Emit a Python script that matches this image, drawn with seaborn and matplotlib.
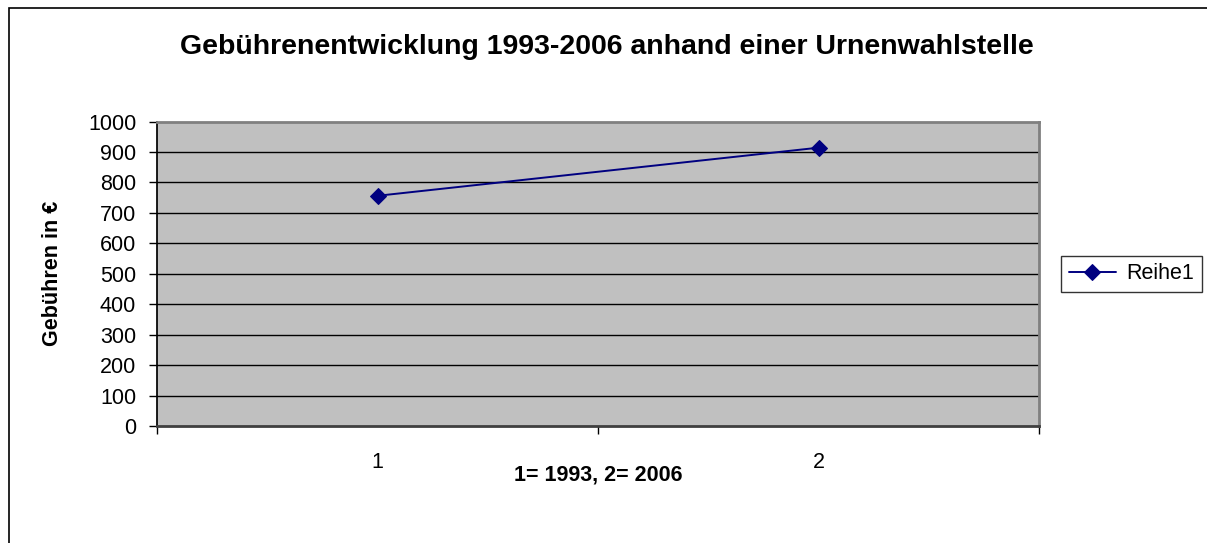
import numpy as np
import pandas as pd
import matplotlib
matplotlib.use("Agg")
import matplotlib.pyplot as plt
import seaborn as sns
from matplotlib.patches import Rectangle

# data
x_vals = [1, 2]
fees = [756, 914]
series = ["Reihe1", "Reihe1"]
y_ticks = list(range(0, 1001, 100))

sns.set_theme(style="white")
plt.rcParams['font.family'] = ['Liberation Sans', 'DejaVu Sans']
plt.rcParams['text.color'] = 'black'
plt.rcParams['xtick.color'] = 'black'
plt.rcParams['ytick.color'] = 'black'
plt.rcParams['axes.labelcolor'] = 'black'

df = pd.DataFrame({"x": x_vals, "Gebühren": fees, "Reihe": series})

fig = plt.figure(figsize=(12.07, 5.43), dpi=100)
ax = fig.add_axes([157 / 1207, 1 - 426 / 543, 882 / 1207, 304.5 / 543])
ax.set_facecolor("#C0C0C0")

# outer frame of the chart area
fig.patches.append(Rectangle((9 / 1207, -0.1), 1.2, 1 - 8 / 543 + 0.1, transform=fig.transFigure,
                             fill=False, edgecolor="black", linewidth=1.2, zorder=0))

sns.lineplot(data=df, x="x", y="Gebühren", hue="Reihe", palette=["#000080"], marker="D",
             markersize=8.5, markeredgecolor="#000080", linewidth=1.4, ax=ax, zorder=5)

ax.set_xlim(0.5, 2.5)
ax.set_ylim(0, 1000)
ax.set_yticks(y_ticks)
ax.set_yticklabels([str(v) for v in y_ticks], fontsize=15.5)
ax.set_xticks([0.5, 1.5, 2.5])
ax.set_xticklabels([])
for xv in x_vals:
    ax.text(xv, -0.085, str(xv), transform=ax.get_xaxis_transform(), ha="center", va="top", fontsize=15.5)
ax.tick_params(axis="both", direction="out", length=6, width=1, color="black", left=True, bottom=True)
ax.tick_params(axis="y", pad=9)

for v in y_ticks[1:-1]:
    ax.axhline(v, color="black", linewidth=1, zorder=1)

ax.spines["left"].set_color("black")
ax.spines["bottom"].set_color("#404040")
ax.spines["bottom"].set_linewidth(2)
ax.spines["top"].set_color("#808080")
ax.spines["right"].set_color("#808080")
ax.spines["top"].set_linewidth(2)
ax.spines["right"].set_linewidth(2)

ax.set_xlabel("")
ax.set_ylabel("")
fig.text(53 / 1207, 1 - 273 / 543, "Gebühren in €", ha="center", va="center", rotation=90,
         fontsize=15.5, fontweight="bold")
fig.text(598 / 1207, 1 - 475 / 543, "1= 1993, 2= 2006", ha="center", va="center",
         fontsize=15.5, fontweight="bold")
fig.text(607 / 1207, 1 - 47 / 543, "Gebührenentwicklung 1993-2006 anhand einer Urnenwahlstelle",
         ha="center", va="center", fontsize=20.5, fontweight="bold")

leg = ax.legend(loc="center left", bbox_to_anchor=(1.025, 0.5), frameon=True, fontsize=15.5,
                handlelength=2.2, borderaxespad=0, fancybox=False, borderpad=0.35,
                handletextpad=0.5)
leg.get_frame().set_edgecolor("black")
leg.get_frame().set_linewidth(1)

fig.savefig("out.png", dpi=100, facecolor="white")
